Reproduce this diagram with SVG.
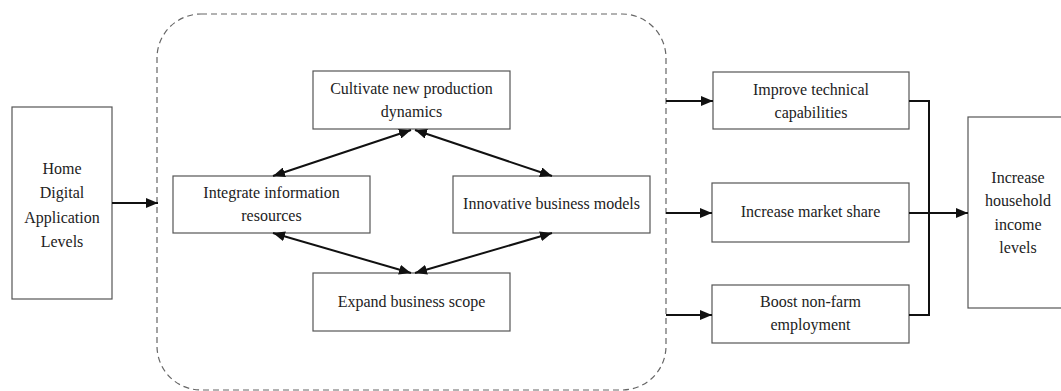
<svg xmlns="http://www.w3.org/2000/svg" width="1061" height="391" viewBox="0 0 1061 391">
<style>
.box{fill:#fff;stroke:#555;stroke-width:1.2}
.t{font-family:"Liberation Serif","Times New Roman",serif;font-size:16px;fill:#222;text-anchor:middle}
.c{fill:none;stroke:#111;stroke-width:2}
.a{marker-end:url(#ah)}
.d{marker-start:url(#ah);marker-end:url(#ah)}
</style>
<defs>
<marker id="ah" viewBox="0 0 12 10" refX="12" refY="5" markerWidth="12" markerHeight="10" markerUnits="userSpaceOnUse" orient="auto-start-reverse">
<path d="M0,0 L12,5 L0,10 Z" fill="#111"/>
</marker>
</defs>
<rect x="0" y="0" width="1061" height="391" fill="#fff"/>
<g id="container">
<rect x="157" y="14" width="509" height="376" rx="44" ry="44" fill="none" stroke="#666" stroke-width="1.2" stroke-dasharray="6,4"/>
</g>
<g id="home">
<rect class="box" x="12" y="107" width="100" height="192"/>
<text class="t"><tspan x="62" y="174">Home</tspan><tspan x="62" y="198">Digital</tspan><tspan x="62" y="223">Application</tspan><tspan x="62" y="247">Levels</tspan></text>
</g>
<g id="cultivate">
<rect class="box" x="313" y="71" width="197" height="58"/>
<text class="t"><tspan x="411.5" y="94">Cultivate new production</tspan><tspan x="411.5" y="117">dynamics</tspan></text>
</g>
<g id="integrate">
<rect class="box" x="173" y="176" width="197" height="57"/>
<text class="t"><tspan x="271.5" y="198">Integrate information</tspan><tspan x="271.5" y="221">resources</tspan></text>
</g>
<g id="innovative">
<rect class="box" x="453" y="176" width="197" height="57"/>
<text class="t" x="551.5" y="209">Innovative business models</text>
</g>
<g id="expand">
<rect class="box" x="313" y="273" width="197" height="58"/>
<text class="t" x="411.5" y="307">Expand business scope</text>
</g>
<g id="improve">
<rect class="box" x="713" y="72" width="196" height="57"/>
<text class="t"><tspan x="811" y="95">Improve technical</tspan><tspan x="811" y="118">capabilities</tspan></text>
</g>
<g id="market">
<rect class="box" x="712" y="183" width="197" height="59"/>
<text class="t" x="810.5" y="217">Increase market share</text>
</g>
<g id="boost">
<rect class="box" x="712" y="285" width="197" height="58"/>
<text class="t"><tspan x="810.5" y="307">Boost non-farm</tspan><tspan x="810.5" y="330">employment</tspan></text>
</g>
<g id="income">
<rect class="box" x="968" y="117" width="100" height="191"/>
<text class="t"><tspan x="1018" y="183">Increase</tspan><tspan x="1018" y="206">household</tspan><tspan x="1018" y="230">income</tspan><tspan x="1018" y="253">levels</tspan></text>
</g>
<g id="connectors">
<line class="c a" x1="112" y1="203" x2="158" y2="203"/>
<line class="c d" x1="411" y1="130" x2="273" y2="176"/>
<line class="c d" x1="415" y1="130" x2="552" y2="176"/>
<line class="c d" x1="273" y1="233" x2="411" y2="273"/>
<line class="c d" x1="552" y1="233" x2="415" y2="273"/>
<line class="c a" x1="666" y1="101" x2="713" y2="101"/>
<line class="c a" x1="666" y1="213" x2="712" y2="213"/>
<line class="c a" x1="666" y1="315" x2="712" y2="315"/>
<polyline class="c" points="909,101 929,101 929,315 909,315"/>
<line class="c a" x1="909" y1="213" x2="968" y2="213"/>
</g>
</svg>
